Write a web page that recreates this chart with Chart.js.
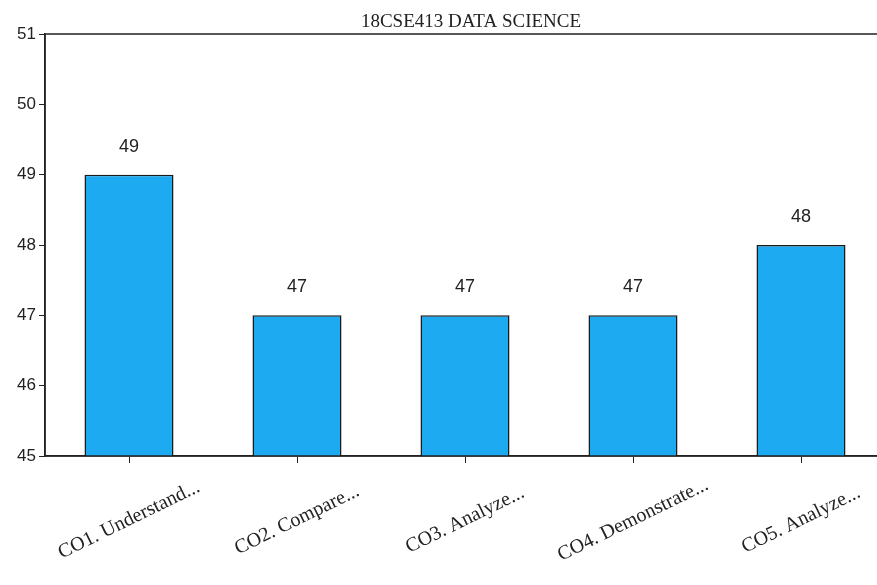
<!DOCTYPE html>
<html>
<head>
<meta charset="utf-8">
<script src="https://cdn.jsdelivr.net/npm/chart.js@4"></script>
<style>
  html, body { margin: 0; padding: 0; background: #fff; overflow: hidden; }
  #wrap { width: 885px; height: 585px; }
</style>
</head>
<body>
<div id="wrap"><canvas id="chart" width="885" height="585"></canvas></div>
<script>
// values
const chartTitle = '18CSE413 DATA SCIENCE';
const categories = ['CO1. Understand...', 'CO2. Compare...', 'CO3. Analyze...', 'CO4. Demonstrate...', 'CO5. Analyze...'];
const scores = [49, 47, 47, 47, 48];
const yTicks = [45, 46, 47, 48, 49, 50, 51];

const serif = '"Liberation Serif", "Times New Roman", serif';
const sans = '"Liberation Sans", Arial, sans-serif';

// title, value labels, centred slanted category labels, frame
const extras = {
  id: 'extras',
  afterDraw(chart) {
    const ctx = chart.ctx;
    const a = chart.chartArea;
    const xs = chart.scales.x;
    const meta = chart.getDatasetMeta(0);
    ctx.save();
    ctx.fillStyle = '#222';

    ctx.font = '19px ' + serif;
    ctx.textAlign = 'center';
    ctx.textBaseline = 'middle';
    ctx.fillText(chartTitle, (a.left + a.right) / 2 + 6, 22);

    ctx.font = '18px ' + sans;
    meta.data.forEach((bar, i) => {
      ctx.fillText(String(scores[i]), bar.x, bar.y - 28);
    });

    ctx.font = '20px ' + serif;
    categories.forEach((c, i) => {
      ctx.save();
      ctx.translate(xs.getPixelForTick(i), a.bottom + 64);
      ctx.rotate(-26 * Math.PI / 180);
      ctx.fillText(c, 0, 0);
      ctx.restore();
    });

    ctx.strokeStyle = '#222';
    ctx.lineWidth = 1.5;
    ctx.strokeRect(a.left, a.top, a.right - a.left, a.bottom - a.top);
    ctx.restore();
  }
};

new Chart(document.getElementById('chart').getContext('2d'), {
  type: 'bar',
  data: {
    labels: categories,
    datasets: [{
      data: scores,
      backgroundColor: '#1eaaf0',
      borderColor: '#1a1a1a',
      borderWidth: 1.5,
      barPercentage: 0.53,
      categoryPercentage: 1
    }]
  },
  options: {
    responsive: false,
    animation: false,
    layout: { padding: { top: 34, right: 0, bottom: 0, left: 4 } },
    plugins: {
      legend: { display: false },
      tooltip: { enabled: false },
      title: { display: false }
    },
    scales: {
      x: {
        afterFit(scale) { scale.height = 129; },
        grid: { offset: false, drawOnChartArea: false, drawTicks: true, tickLength: 7, color: '#222', tickColor: '#222' },
        border: { color: '#222', width: 1.5 },
        ticks: { display: false }
      },
      y: {
        min: 45,
        max: 51,
        afterFit(scale) { scale.width = 41; },
        afterBuildTicks(scale) { scale.ticks = yTicks.map(v => ({ value: v })); },
        grid: { drawOnChartArea: false, drawTicks: true, tickLength: 6, color: '#222', tickColor: '#222' },
        border: { color: '#222', width: 1.5 },
        ticks: {
          color: '#222',
          padding: 3,
          font: { family: sans, size: 17 }
        }
      }
    }
  },
  plugins: [extras]
});
</script>
</body>
</html>
